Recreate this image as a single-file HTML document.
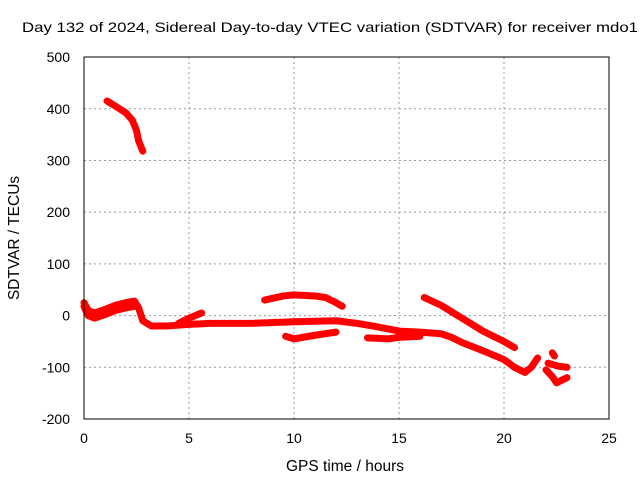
<!DOCTYPE html>
<html><head><meta charset="utf-8"><style>
body{margin:0;background:#fff}
svg text{font-family:"Liberation Sans",sans-serif;font-size:14px;fill:#000}
</style></head><body>
<svg width="640" height="480">
<g id="grid"></g>
<g id="series"></g>
<rect x="84" y="57" width="525" height="362" fill="none" stroke="#000"/>
<g id="ticks"></g>
<text x="22" y="32" textLength="616" lengthAdjust="spacingAndGlyphs" style="font-size:14px">Day 132 of 2024, Sidereal Day-to-day VTEC variation (SDTVAR) for receiver mdo1</text>
<text x="345" y="471" text-anchor="middle" style="font-size:15.5px">GPS time / hours</text>
<text transform="translate(19,238) rotate(-90)" text-anchor="middle" style="font-size:15.5px">SDTVAR / TECUs</text>
</svg>
<script>
const xTicks=[0,5,10,15,20,25];
const yTicks=[-200,-100,0,100,200,300,400,500];
const seg1=[[1.1,415],[1.5,405],[2.0,392],[2.3,378],[2.5,358],[2.6,338],[2.8,318]];
const seg2=[[0,25],[0.2,10],[0.5,5],[1,12],[1.5,20],[2,25],[2.4,28],[2.6,15],[2.8,-10],[3.2,-20],[4,-20],[5,-17],[6,-15],[8,-15],[10,-12],[12,-10],[13,-15],[14,-22],[15,-30],[16,-32],[17,-35],[17.5,-42],[18,-52],[19,-68],[20,-85],[20.5,-100],[21,-110],[21.3,-100],[21.6,-82]];
const seg3=[[0,18],[0.2,0],[0.5,-5],[1,2],[1.5,10],[2,15],[2.4,18]];
const seg4=[[4.5,-15],[5,-5],[5.6,5]];
const seg5=[[8.6,30],[9.5,38],[10,40],[11,38],[11.5,35],[12,25],[12.3,18]];
const seg6=[[9.6,-40],[10,-45],[11,-38],[12,-32]];
const seg7=[[13.5,-43],[14.5,-45],[15,-42],[16,-40]];
const seg8=[[16.2,35],[17,20],[18,-5],[19,-30],[20,-50],[20.5,-62]];
const seg9=[[22,-105],[22.3,-118],[22.5,-130],[23,-120]];
const seg10=[[22.1,-92],[22.6,-98],[23,-100]];
const seg11=[[22.3,-72],[22.4,-78]];
const segments=[seg1,seg2,seg3,seg4,seg5,seg6,seg7,seg8,seg9,seg10,seg11];
const X=h=>84+h*21, Y=v=>315.6-v*0.5171;
const NS="http://www.w3.org/2000/svg";
const grid=document.getElementById('grid'),ticks=document.getElementById('ticks'),ser=document.getElementById('series');
function mk(t,a,p){const e=document.createElementNS(NS,t);for(const k in a)e.setAttribute(k,a[k]);p.appendChild(e);return e;}
xTicks.forEach(t=>{
 if(t>0&&t<25){const g=mk('line',{x1:X(t),x2:X(t),y1:57,y2:419,stroke:'#999','stroke-dasharray':'2,3'},grid);
 
 }
 const l=mk('text',{x:X(t),y:443,'text-anchor':'middle'},ticks);l.textContent=t;
 
 
});
yTicks.forEach(t=>{
 if(t>-200&&t<500){const g=mk('line',{x1:84,x2:609,y1:Y(t),y2:Y(t),stroke:'#999','stroke-dasharray':'2,3'},grid);
 
 }
 const l=mk('text',{x:70,y:Y(t)+5,'text-anchor':'end'},ticks);l.textContent=t;
 
 
});
segments.forEach(s=>{
 const p=mk('polyline',{points:s.map(d=>X(d[0])+','+Y(d[1])).join(' '),fill:'none',stroke:'#f00','stroke-width':7,'stroke-linejoin':'round','stroke-linecap':'round'},ser);
 
 
});
</script>
</body></html>
